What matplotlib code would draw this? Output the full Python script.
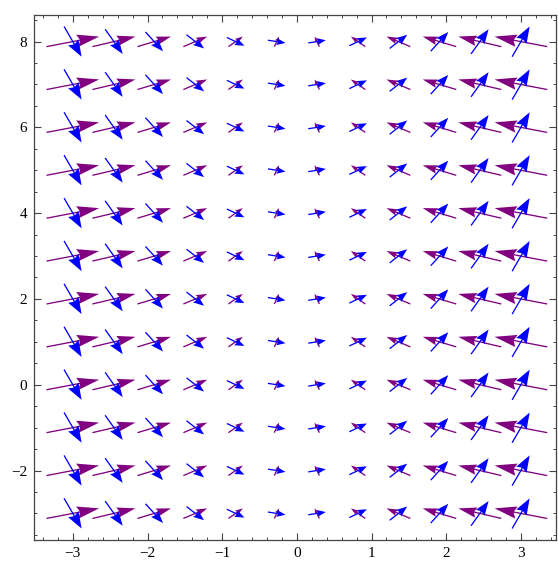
import numpy as np
import matplotlib.pyplot as plt
from matplotlib.ticker import MultipleLocator

# two overlaid vector fields, every row is the same, only x matters
xs = [-3.0, -2.45, -1.91, -1.36, -0.82, -0.27, 0.27, 0.82, 1.36, 1.91, 2.45, 3.0]
ys = [8, 7, 6, 5, 4, 3, 2, 1, 0, -1, -2, -3]

purple_u = [3.0, 2.45, 1.91, 1.36, 0.82, 0.27, -0.27, -0.82, -1.36, -1.91, -2.45, -3.0]
purple_v = [1.0, 1.0, 1.0, 1.0, 1.0, 1.0, 1.0, 1.0, 1.0, 1.0, 1.0, 1.0]
blue_u = [1.0, 1.0, 1.0, 1.0, 1.0, 1.0, 1.0, 1.0, 1.0, 1.0, 1.0, 1.0]
blue_v = [-3.0, -2.45, -1.91, -1.36, -0.82, -0.27, 0.27, 0.82, 1.36, 1.91, 2.45, 3.0]

XLIM = (-3.52, 3.47)
YLIM = (-3.62, 8.62)
K = 0.235  # arrow length in data units per unit of vector

plt.rcParams['font.family'] = ['Liberation Serif', 'DejaVu Serif']

fig = plt.figure(figsize=(5.58, 5.61), dpi=100)
ax = fig.add_axes([34 / 558, 21 / 561, 522 / 558, 525 / 561])
ax.set_xlim(*XLIM)
ax.set_ylim(*YLIM)

# pixels per data unit, used to size the arrow heads like Mathematica does
sx = 522 / (XLIM[1] - XLIM[0])
sy = 525 / (YLIM[1] - YLIM[0])

# (u, v, colour, head length factor, head width factor)
fields = [(purple_u, purple_v, '#800080', 0.4, 0.5),
          (blue_u, blue_v, '#0000ff', 0.45, 0.65)]
w = 1.3
for us, vs, col, hf, wf in fields:
    for x, u, v in zip(xs, us, vs):
        L = K * np.hypot(u * sx, v * sy)
        hl = hf * L + 0.8
        hw = wf * hl + 1.2
        n = len(ys)
        ax.quiver(np.full(n, x), ys, np.full(n, u), np.full(n, v),
                  color=col, angles='xy', scale_units='xy', scale=1 / K,
                  pivot='middle', units='dots', width=w,
                  headlength=hl / w, headwidth=hw / w,
                  headaxislength=0.88 * hl / w)

ax.set_xticks(range(-3, 4))
ax.xaxis.set_minor_locator(MultipleLocator(0.2))
ax.set_yticks([-2, 0, 2, 4, 6, 8])
ax.yaxis.set_minor_locator(MultipleLocator(0.5))
ax.tick_params(which='both', direction='in', top=True, right=True,
               color='#444444', labelsize=11, pad=5)
ax.tick_params(which='major', length=5, width=0.8)
ax.tick_params(which='minor', length=2.5, width=0.7)
for s in ax.spines.values():
    s.set_color('#444444')
    s.set_linewidth(0.9)

fig.savefig('out.png', dpi=100)
